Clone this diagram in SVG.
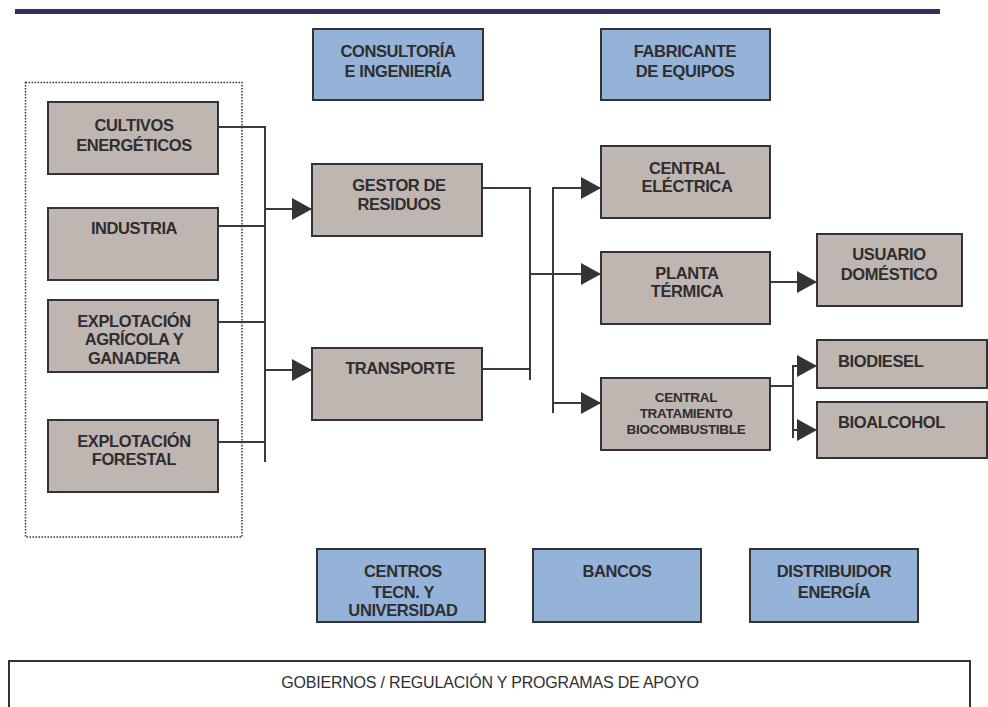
<svg xmlns="http://www.w3.org/2000/svg" width="988" height="707" viewBox="0 0 988 707">
<defs>
<marker id="ah" markerUnits="userSpaceOnUse" markerWidth="20" markerHeight="22" refX="20" refY="11" orient="auto">
<path d="M0,0 L20,11 L0,22 z" fill="#333338"/>
</marker>
<style>
.g{fill:#bfb6b2;stroke:#333336;stroke-width:2}
.b{fill:#95b3d9;stroke:#333336;stroke-width:2}
.t{font-family:"Liberation Sans",Arial,sans-serif;font-weight:bold;font-size:16.5px;fill:#2e2e30;text-anchor:middle;letter-spacing:-0.4px}
.s{font-size:13.5px;letter-spacing:-0.3px}
.l{text-anchor:start}
.r{font-weight:normal;font-size:16px;letter-spacing:-0.2px}
.c{fill:none;stroke:#3a3a3c;stroke-width:2}
.a{fill:none;stroke:#3a3a3c;stroke-width:2;marker-end:url(#ah)}
</style>
</defs>
<rect x="15" y="9" width="925" height="5" fill="#2f3162"/>
<rect x="25.5" y="82.5" width="216.5" height="454.5" fill="none" stroke="#333" stroke-width="1.5" stroke-dasharray="1.5,1.5"/>

<g id="consultoria"><rect class="b" x="313" y="29" width="170" height="71"/><text class="t" x="398" y="57">CONSULTORÍA</text><text class="t" x="398" y="77">E INGENIERÍA</text></g>
<g id="fabricante"><rect class="b" x="601" y="29" width="169" height="71"/><text class="t" x="685" y="57">FABRICANTE</text><text class="t" x="685" y="77">DE EQUIPOS</text></g>

<g id="cultivos"><rect class="g" x="48" y="102" width="170" height="72"/><text class="t" x="134" y="131">CULTIVOS</text><text class="t" x="134" y="151">ENERGÉTICOS</text></g>
<g id="industria"><rect class="g" x="48" y="208" width="170" height="72"/><text class="t" x="134" y="234">INDUSTRIA</text></g>
<g id="agricola"><rect class="g" x="48" y="300" width="170" height="72"/><text class="t" x="134" y="327">EXPLOTACIÓN</text><text class="t" x="134" y="345">AGRÍCOLA Y</text><text class="t" x="134" y="364">GANADERA</text></g>
<g id="forestal"><rect class="g" x="48" y="420" width="170" height="72"/><text class="t" x="134" y="447">EXPLOTACIÓN</text><text class="t" x="134" y="465">FORESTAL</text></g>

<g id="gestor"><rect class="g" x="312" y="164" width="170" height="72"/><text class="t" x="399" y="191">GESTOR DE</text><text class="t" x="399" y="210">RESIDUOS</text></g>
<g id="transporte"><rect class="g" x="312" y="348" width="170" height="72"/><text class="t" x="400" y="374">TRANSPORTE</text></g>

<g id="electrica"><rect class="g" x="601" y="146" width="169" height="72"/><text class="t" x="687" y="174">CENTRAL</text><text class="t" x="687" y="192">ELÉCTRICA</text></g>
<g id="termica"><rect class="g" x="601" y="252" width="169" height="72"/><text class="t" x="687" y="279">PLANTA</text><text class="t" x="687" y="297">TÉRMICA</text></g>
<g id="tratamiento"><rect class="g" x="601" y="378" width="169" height="72"/><text class="t s" x="686" y="402">CENTRAL</text><text class="t s" x="686" y="418">TRATAMIENTO</text><text class="t s" x="686" y="434">BIOCOMBUSTIBLE</text></g>

<g id="usuario"><rect class="g" x="817" y="234" width="145" height="72"/><text class="t" x="889" y="260">USUARIO</text><text class="t" x="889" y="280">DOMÉSTICO</text></g>
<g id="biodiesel"><rect class="g" x="817" y="340" width="170" height="48"/><text class="t l" x="838" y="367">BIODIESEL</text></g>
<g id="bioalcohol"><rect class="g" x="817" y="402" width="170" height="56"/><text class="t l" x="838" y="428">BIOALCOHOL</text></g>

<g id="centros"><rect class="b" x="317" y="549" width="168" height="73"/><text class="t" x="403" y="577">CENTROS</text><text class="t" x="403" y="598">TECN. Y</text><text class="t" x="403" y="616">UNIVERSIDAD</text></g>
<g id="bancos"><rect class="b" x="533" y="549" width="168" height="73"/><text class="t" x="617" y="577">BANCOS</text></g>
<g id="distribuidor"><rect class="b" x="750" y="549" width="168" height="73"/><text class="t" x="834" y="577">DISTRIBUIDOR</text><text class="t" x="834" y="598">ENERGÍA</text></g>

<g id="gobiernos"><path d="M9,708 V661 H970 V708" fill="#fff" stroke="#333336" stroke-width="2"/><text class="t r" x="490" y="688">GOBIERNOS / REGULACIÓN Y  PROGRAMAS DE APOYO</text></g>

<g id="connectors">
<path class="c" d="M218,127 H265 M218,226 H265 M218,322 H265 M218,442 H265 M265,126 V462"/>
<path class="a" d="M265,209 H312"/>
<path class="a" d="M265,370 H312"/>
<path class="c" d="M482,188 H530 M482,369 H530 M530,187 V380"/>
<path class="a" d="M530,274 H601"/>
<path class="c" d="M553,187 V413"/>
<path class="a" d="M553,188 H601"/>
<path class="a" d="M553,403 H601"/>
<path class="a" d="M770,282 H817"/>
<path class="c" d="M770,386 H793 M793,365 V438"/>
<path class="a" d="M792,366 H817"/>
<path class="a" d="M792,430 H817"/>
</g>
</svg>
